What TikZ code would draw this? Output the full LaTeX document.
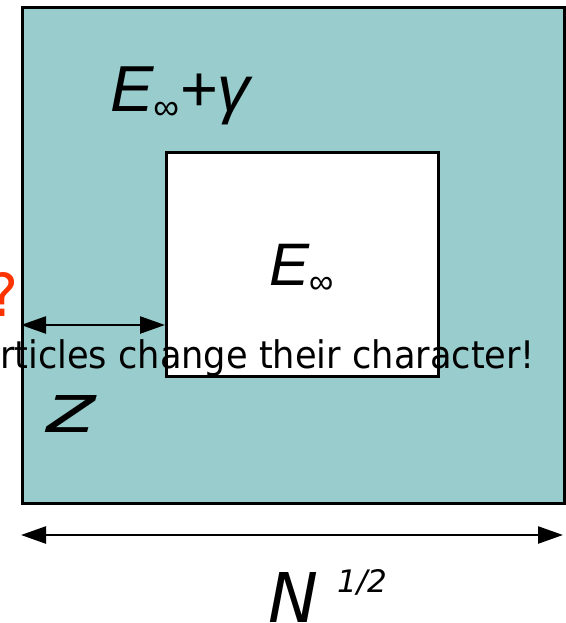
\documentclass[tikz,border=0pt]{standalone}
\usepackage{fontspec}
\usepackage{graphicx}
\setmainfont{Liberation Sans}
\newfontfamily\comicfont{DejaVu Sans}
\usetikzlibrary{arrows.meta}
\definecolor{teal}{HTML}{99CCCC}
\definecolor{qorange}{HTML}{FF3300}
\tikzset{
  box/.style={draw=black, line width=2.6pt},
  dimarrow/.style={line width=2.4pt, {Triangle[length=25pt,width=17pt]}-{Triangle[length=25pt,width=17pt]}},
  lbl/.style={inner sep=0pt, outer sep=0pt}
}
\begin{document}
\begin{tikzpicture}[x=1pt,y=-1pt]
\useasboundingbox (0,0) rectangle (565,623);
% outer square
\node[box, fill=teal, minimum width=542pt, minimum height=496pt, anchor=north west, inner sep=0pt] (outer) at (21,6) {};
% inner square
\node[box, fill=white, minimum width=272pt, minimum height=224pt, anchor=north west, inner sep=0pt] (inner) at (165,151) {};
% labels
\node[lbl, anchor=base west] (eg) at (110,112) {\fontsize{65}{65}\selectfont\itshape E\raisebox{-8pt}{\upshape\fontsize{36}{36}\selectfont ∞}\upshape\hspace{1pt}+\itshape γ};
\node[lbl, anchor=base west] (ein) at (269,285) {\fontsize{60}{60}\selectfont\itshape E\raisebox{-8pt}{\upshape\fontsize{34}{34}\selectfont ∞}};
% question mark (cut)
\node[lbl, anchor=south east, text=qorange] (q) at (19,316) {\resizebox{30pt}{44pt}{\comicfont ?}};
% z arrow
\coordinate (za) at (21,325);
\coordinate (zb) at (165,325);
\draw[dimarrow] (za) -- (zb);
% text
\node[lbl, anchor=base west] (txt) at (0,368) {\resizebox{535pt}{\height}{\comicfont\fontsize{38}{38}\selectfont rticles change their character!}};
\node[lbl, anchor=south west] (z) at (45,432) {\resizebox{50pt}{37pt}{\comicfont\itshape z}};
% N arrow
\coordinate (na) at (21,535);
\coordinate (nb) at (563,535);
\draw[dimarrow] (na) -- (nb);
\node[lbl, anchor=south west] (N) at (268,622) {\resizebox{50pt}{50pt}{\comicfont\itshape N}};
\node[lbl, anchor=south west] (half) at (337,595) {\resizebox{50pt}{23pt}{\comicfont\itshape 1/2}};
\end{tikzpicture}
\end{document}
